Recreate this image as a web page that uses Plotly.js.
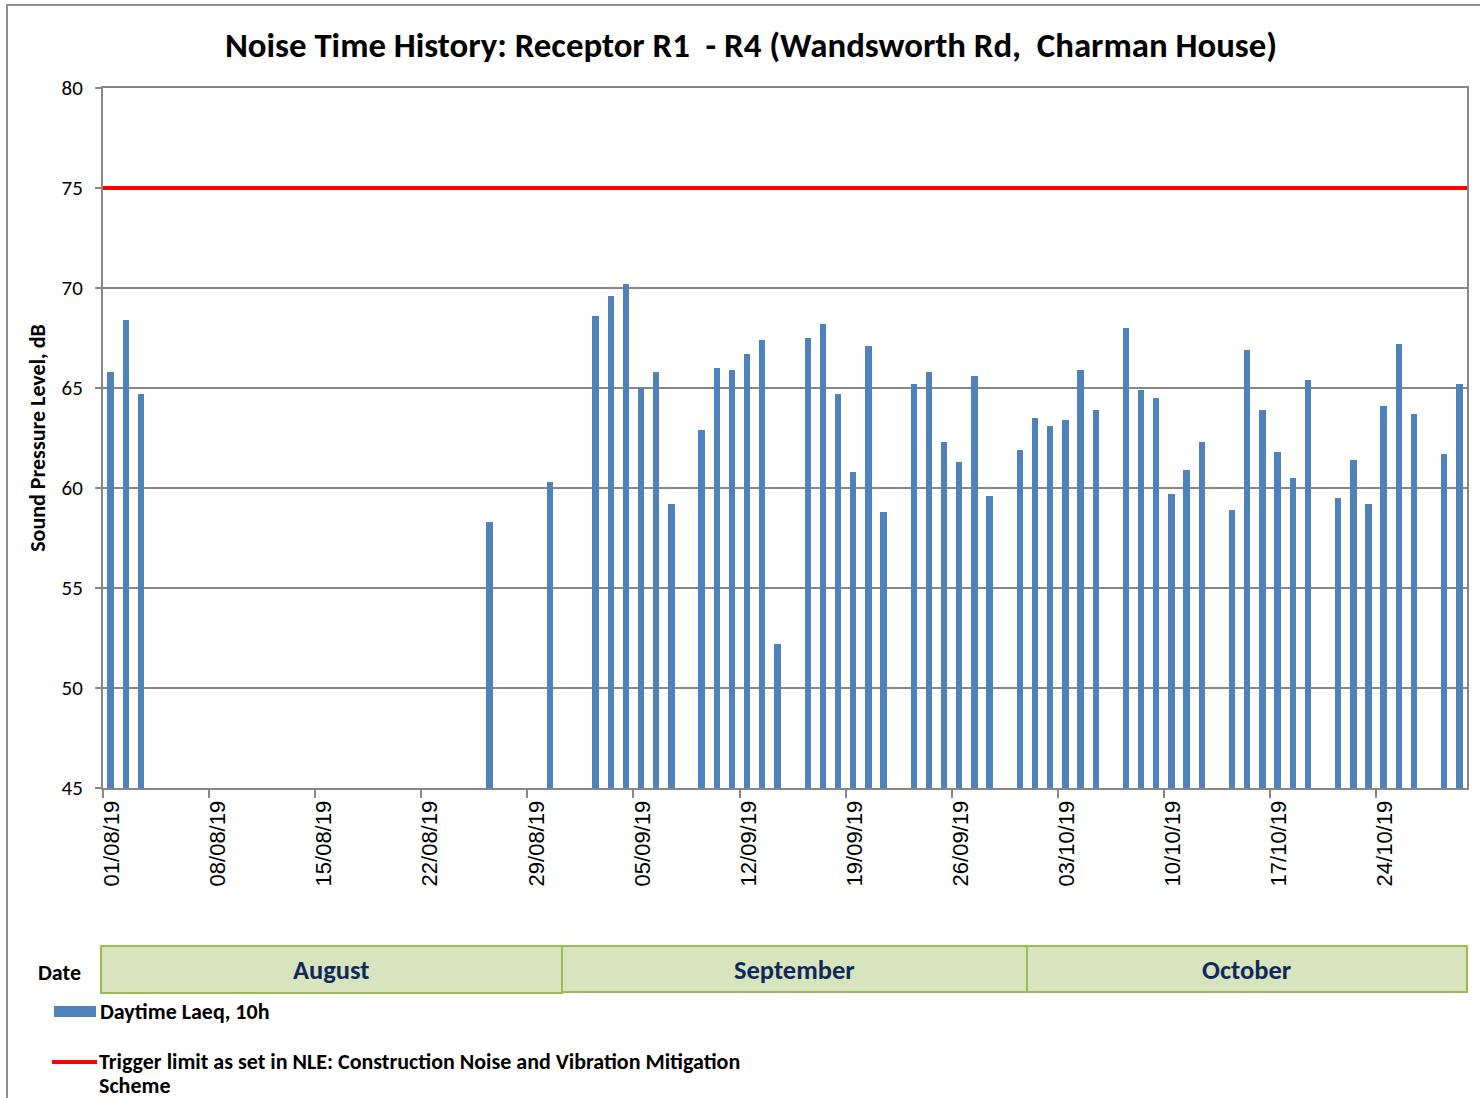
<!DOCTYPE html>
<html>
<head>
<meta charset="utf-8">
<script src="https://cdn.plot.ly/plotly-3.0.1.min.js"></script>
<style>
  html, body { margin: 0; padding: 0; background: #fff; }
  #chart { width: 1480px; height: 1098px; }
</style>
</head>
<body>
<div id="chart"></div>
<script>
// ---- data ----
const dates = [
  '2019-08-01','2019-08-02','2019-08-03',
  '2019-08-26','2019-08-30',
  '2019-09-02','2019-09-03','2019-09-04','2019-09-05','2019-09-06','2019-09-07',
  '2019-09-09','2019-09-10','2019-09-11','2019-09-12','2019-09-13','2019-09-14',
  '2019-09-16','2019-09-17','2019-09-18','2019-09-19','2019-09-20','2019-09-21',
  '2019-09-23','2019-09-24','2019-09-25','2019-09-26','2019-09-27','2019-09-28',
  '2019-09-30','2019-10-01','2019-10-02','2019-10-03','2019-10-04','2019-10-05',
  '2019-10-07','2019-10-08','2019-10-09','2019-10-10','2019-10-11','2019-10-12',
  '2019-10-14','2019-10-15','2019-10-16','2019-10-17','2019-10-18','2019-10-19',
  '2019-10-21','2019-10-22','2019-10-23','2019-10-24','2019-10-25','2019-10-26',
  '2019-10-28','2019-10-29'
];
const laeq = [
  65.8, 68.4, 64.7,
  58.3, 60.3,
  68.6, 69.6, 70.2, 65.0, 65.8, 59.2,
  62.9, 66.0, 65.9, 66.7, 67.4, 52.2,
  67.5, 68.2, 64.7, 60.8, 67.1, 58.8,
  65.2, 65.8, 62.3, 61.3, 65.6, 59.6,
  61.9, 63.5, 63.1, 63.4, 65.9, 63.9,
  68.0, 64.9, 64.5, 59.7, 60.9, 62.3,
  58.9, 66.9, 63.9, 61.8, 60.5, 65.4,
  59.5, 61.4, 59.2, 64.1, 67.2, 63.7,
  61.7, 65.2
];
const triggerDates = ['2019-08-01', '2019-10-30'];
const triggerLevel = [75, 75];
const months = ['August', 'September', 'October'];
const xRange = ['2019-08-01', '2019-10-30'];
const yRange = [45, 80];
const seriesNames = ['Daytime Laeq, 10h',
  'Trigger limit as set in NLE: Construction Noise and Vibration Mitigation', 'Scheme'];

// ---- geometry helpers (pixel -> paper) ----
const W = 1480, H = 1098;
const M = { l: 103, r: 13, t: 88, b: 310 };
const PW = W - M.l - M.r, PH = H - M.t - M.b;
const px = x => (x - M.l) / PW;
const py = y => (H - M.b - y) / PH;

const FONT = 'Carlito, Calibri, Lato, sans-serif';
const GRID = '#878787';
const DAY = 86400000;

const traces = [
  {
    type: 'bar', name: seriesNames[0], x: dates, y: laeq,
    xperiod: DAY, xperiodalignment: 'middle',
    width: 0.42 * DAY,
    marker: { color: '#4f81bd', line: { width: 0 } },
    showlegend: false, hoverinfo: 'x+y'
  },
  {
    type: 'scatter', mode: 'lines', name: seriesNames[1],
    x: triggerDates, y: triggerLevel,
    line: { color: '#ff0000', width: 4 },
    showlegend: false, cliponaxis: false
  }
];

const bands = [
  { x0: 101, x1: 562, y0: 946, y1: 993, cx: 331 },
  { x0: 562, x1: 1027, y0: 946, y1: 992, cx: 794 },
  { x0: 1027, x1: 1467, y0: 946, y1: 992, cx: 1247 }
];

const shapes = [
  // outer chart frame
  { type: 'rect', xref: 'paper', yref: 'paper', x0: px(7), x1: px(1495), y0: py(5), y1: py(1115),
    line: { color: '#8f8f8f', width: 2 }, fillcolor: 'rgba(0,0,0,0)', layer: 'below' },
  // legend swatches
  { type: 'rect', xref: 'paper', yref: 'paper', x0: px(54), x1: px(96), y0: py(1006), y1: py(1017),
    line: { width: 0 }, fillcolor: '#4f81bd' },
  { type: 'line', xref: 'paper', yref: 'paper', x0: px(52), x1: px(97), y0: py(1062), y1: py(1062),
    line: { color: '#ff0000', width: 4 } }
];
bands.forEach(b => shapes.push({
  type: 'rect', xref: 'paper', yref: 'paper', x0: px(b.x0), x1: px(b.x1), y0: py(b.y0), y1: py(b.y1),
  line: { color: '#9bbb59', width: 2 }, fillcolor: '#d8e4bd'
}));

const LEG = { family: FONT, size: 22, color: '#000' };
const annotations = [
  { text: '<b>Date</b>', xref: 'paper', yref: 'paper', x: px(59), y: py(972),
    showarrow: false, xanchor: 'center', yanchor: 'middle', font: LEG },
  { text: '<b>' + seriesNames[0] + '</b>', xref: 'paper', yref: 'paper', x: px(98), y: py(1011),
    showarrow: false, xanchor: 'left', yanchor: 'middle', font: LEG },
  { text: '<b>' + seriesNames[1] + '</b>', xref: 'paper', yref: 'paper', x: px(98), y: py(1060.5),
    showarrow: false, xanchor: 'left', yanchor: 'middle', height: 26, borderpad: 0, font: LEG },
  { text: '<b>' + seriesNames[2] + '</b>', xref: 'paper', yref: 'paper', x: px(98), y: py(1085),
    showarrow: false, xanchor: 'left', yanchor: 'middle', height: 21, borderpad: 0, font: LEG }
];
months.forEach((m, i) => annotations.push({
  text: '<b>' + m + '</b>', xref: 'paper', yref: 'paper', x: px(bands[i].cx), y: py(970),
  showarrow: false, xanchor: 'center', yanchor: 'middle',
  font: { family: FONT, size: 26.5, color: '#10295a' }
}));

const layout = {
  width: W, height: H,
  margin: M,
  paper_bgcolor: '#fff', plot_bgcolor: '#fff',
  font: { family: FONT, color: '#000' },
  showlegend: false,
  bargap: 0,
  title: {
    text: '<b>Noise Time History: Receptor R1  - R4 (Wandsworth Rd,  Charman House)</b>',
    xref: 'container', yref: 'container', x: 751 / W, y: 1 - 45 / H,
    xanchor: 'center', yanchor: 'middle',
    font: { family: FONT, size: 34.8, color: '#000' }
  },
  xaxis: {
    type: 'date', range: xRange, autorange: false,
    tick0: xRange[0], dtick: 7 * DAY, tickformat: '%d/%m/%y',
    tickangle: -90, ticks: 'outside', ticklen: 8, tickwidth: 2, tickcolor: GRID,
    ticklabelshift: 9, ticklabelstandoff: -6,
    showline: true, linecolor: GRID, linewidth: 2, mirror: true,
    showgrid: false, zeroline: false,
    tickfont: { family: 'Liberation Sans, Arial, sans-serif', size: 22, color: '#000' }
  },
  yaxis: {
    range: yRange, autorange: false, dtick: 5, tick0: 45,
    ticks: 'outside', ticklen: 6, tickwidth: 2, tickcolor: GRID,
    ticklabelstandoff: 8,
    showline: true, linecolor: GRID, linewidth: 2, mirror: true,
    showgrid: true, gridcolor: GRID, gridwidth: 2, zeroline: false,
    tickfont: { family: FONT, size: 21, color: '#000' },
    title: { text: '<b>Sound Pressure Level, dB</b>', standoff: 10,
      font: { family: FONT, size: 22, color: '#000' } }
  },
  shapes: shapes,
  annotations: annotations
};

Plotly.newPlot('chart', traces, layout, { displayModeBar: false, staticPlot: true });
</script>
</body>
</html>
